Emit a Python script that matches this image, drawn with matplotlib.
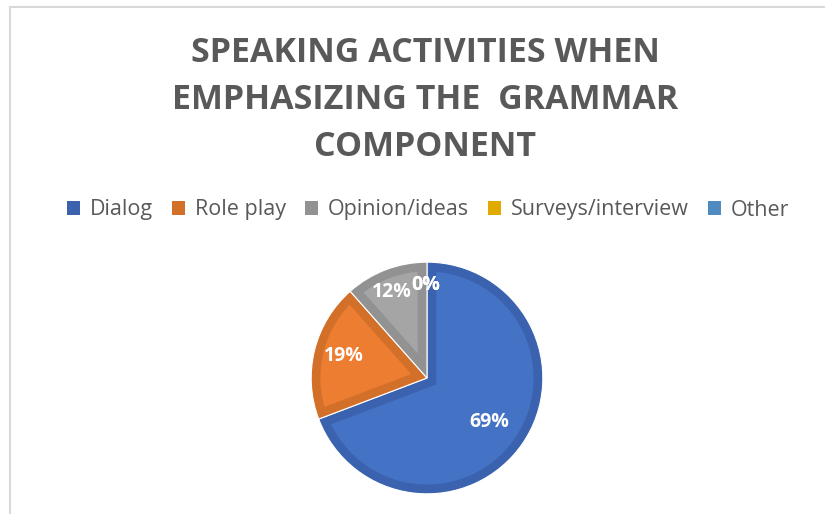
import matplotlib
matplotlib.use("Agg")
import numpy as np
import matplotlib.pyplot as plt
from matplotlib.patches import Rectangle, Polygon

categories = ["Dialog", "Role play", "Opinion/ideas", "Surveys/interview", "Other"]
values = [18, 5, 3, 0, 0]
labels_pct = ["69%", "19%", "12%", "0%", "0%"]
fill_colors = ["#4472C4", "#ED7D31", "#A5A5A5", "#FFC000", "#5B9BD5"]
edge_colors = ["#3A62AE", "#D2702A", "#929292", "#E0AA00", "#4F8AC0"]
title = "SPEAKING ACTIVITIES WHEN\nEMPHASIZING THE  GRAMMAR\nCOMPONENT"

W, H = 825, 514
fig = plt.figure(figsize=(W / 100, H / 100), dpi=100)
fig.patch.set_facecolor("white")

# chart frame
fig.patches.append(Rectangle((10 / W, -0.1), 1.2, (H - 7.5) / H + 0.1, transform=fig.transFigure,
                             fill=False, edgecolor="#D9D9D9", linewidth=1.5))

fig.text(425 / W, 1 - 100 / H, title, ha="center", va="center", fontsize=24.5,
         fontweight="bold", color="#595959", family="Open Sans", linespacing=1.5)

# pie axes: center (427, 378), radius 117 px
r = 117
ax = fig.add_axes([(427 - r) / W, 1 - (378 + r) / H, 2 * r / W, 2 * r / H])
wedges, _ = ax.pie(values, colors=edge_colors, startangle=90, counterclock=False,
                   radius=1.0, wedgeprops=dict(linewidth=0.8, edgecolor="white"))
for w, v in zip(wedges, values):
    if v == 0:
        w.set_visible(False)
ax.set_xlim(-1.01, 1.01)
ax.set_ylim(-1.01, 1.01)
ax.set_aspect("auto")

# inner (lighter) fill, inset from each wedge's border
d = 0.08
R = 1.0
for w, fc, v in zip(wedges, fill_colors, values):
    if v == 0:
        continue
    ta, tb = np.deg2rad(w.theta1), np.deg2rad(w.theta2)
    alpha = tb - ta
    mid = (ta + tb) / 2
    P = d / np.sin(alpha / 2) * np.array([np.cos(mid), np.sin(mid)])
    rho = R - d

    def hit(theta):
        u = np.array([np.cos(theta), np.sin(theta)])
        pu = P @ u
        t = -pu + np.sqrt(pu ** 2 - P @ P + rho ** 2)
        return P + t * u

    ha_, hb_ = hit(ta), hit(tb)
    aa = np.arctan2(ha_[1], ha_[0])
    ab = np.arctan2(hb_[1], hb_[0])
    while ab <= aa:
        ab += 2 * np.pi
    arc = np.linspace(aa, ab, 200)
    pts = [P] + [np.array([rho * np.cos(a), rho * np.sin(a)]) for a in arc] + [P]
    ax.add_patch(Polygon(np.array(pts), closed=True, facecolor=fc, edgecolor="none"))

# data labels (positions in axes data units)
label_pos = [(0.54, -0.38), (-0.72, 0.19), (-0.30, 0.74), (-0.01, 0.80), (-0.01, 0.80)]
for (x, y), t in zip(label_pos, labels_pct):
    ax.text(x, y, t, ha="center", va="center", fontsize=14, fontweight="bold",
            color="white", family="Open Sans")

# legend
handles = [Rectangle((0, 0), 1, 1, facecolor=c, edgecolor="none") for c in edge_colors]
leg = fig.legend(handles, categories, loc="center", bbox_to_anchor=(428 / W, 1 - 210 / H),
                 ncol=5, frameon=False, handlelength=0.6, handleheight=0.6,
                 handletextpad=0.45, columnspacing=0.9, labelcolor="#595959",
                 prop={"family": "Open Sans", "size": 15.5})

fig.savefig("out.png", dpi=100)
